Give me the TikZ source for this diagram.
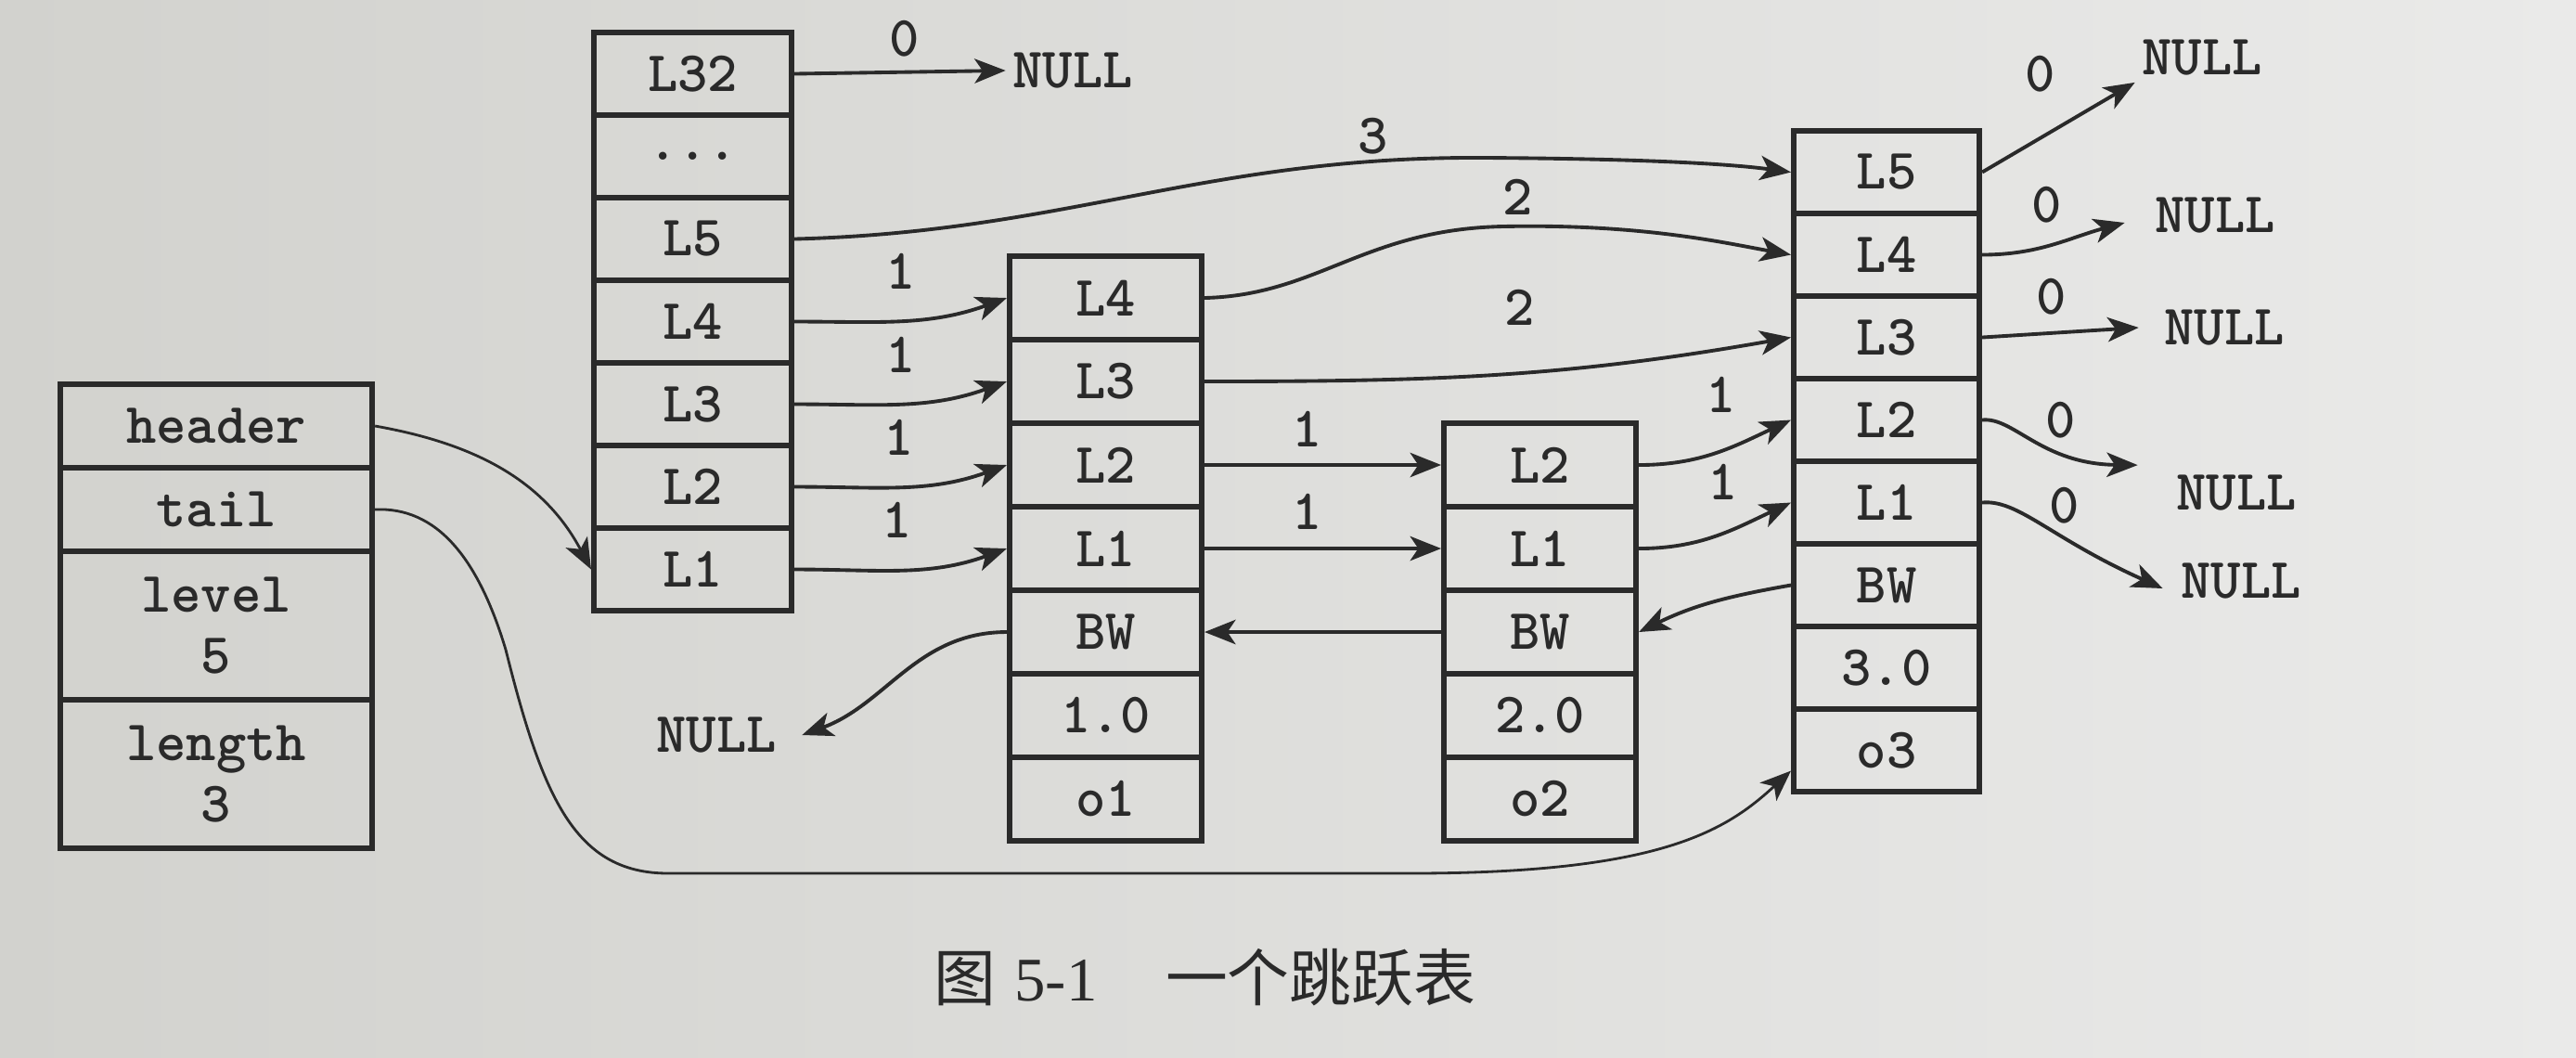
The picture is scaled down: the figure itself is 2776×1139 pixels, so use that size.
\documentclass[tikz,border=0pt]{standalone}
\usepackage{fontspec}
\newfontfamily\cjk{Noto Sans CJK SC}
\newfontfamily\capser{Liberation Serif}
\usetikzlibrary{arrows.meta}
\definecolor{ink}{RGB}{42,42,42}
\definecolor{paperL}{RGB}{210,210,206}
\definecolor{paperR}{RGB}{234,234,233}
\newcommand{\celltt}{\ttfamily\bfseries\fontsize{17.5}{18.5}\selectfont}
\begin{document}
\begin{tikzpicture}[x=0.01cm,y=0.01cm,
  cell/.style={draw=ink, line width=1.7pt, inner sep=0pt, anchor=north west, font=\celltt, text=ink, align=center},
  hc/.style={cell, minimum width=2.13cm, minimum height=0.89cm},
  nc/.style={cell, minimum width=2.07cm, minimum height=0.90cm},
  tc/.style={cell, minimum width=2.00cm, minimum height=0.89cm},
  sc/.style={cell, minimum width=3.36cm, minimum height=0.90cm},
  sctwo/.style={cell, minimum width=3.36cm, minimum height=1.60cm},
  txt/.style={font=\celltt, text=ink, inner sep=2pt},
  lnk/.style={draw=ink, line width=1.1pt, -{Stealth[length=9.5pt,width=7.5pt,inset=2.5pt]}},
  thinlnk/.style={lnk, line width=0.8pt}
]
\shade[left color=paperL, right color=paperR] (0,0) rectangle (2776,-1139);
\useasboundingbox (0,0) rectangle (2776,-1139);

% zskiplist structure
\node[sc]    (sHead) at (62,-411) {header};
\node[sc]    (sTail) at (62,-501) {tail};
\node[sctwo] (sLev)  at (62,-591) {level\\5};
\node[sctwo] (sLen)  at (62,-751) {length\\3};

% header node
\node[hc] (hL32) at (637,-32)  {L32};
\node[hc] (hdot) at (637,-121) {...};
\node[hc] (hL5)  at (637,-210) {L5};
\node[hc] (hL4)  at (637,-299) {L4};
\node[hc] (hL3)  at (637,-388) {L3};
\node[hc] (hL2)  at (637,-477) {L2};
\node[hc] (hL1)  at (637,-566) {L1};

% node 1
\node[nc] (aL4) at (1085,-273) {L4};
\node[nc] (aL3) at (1085,-363) {L3};
\node[nc] (aL2) at (1085,-453) {L2};
\node[nc] (aL1) at (1085,-543) {L1};
\node[nc] (aBW) at (1085,-633) {BW};
\node[nc] (aSc) at (1085,-723) {1.0};
\node[nc] (aOb) at (1085,-813) {o1};

% node 2
\node[nc] (bL2) at (1553,-453) {L2};
\node[nc] (bL1) at (1553,-543) {L1};
\node[nc] (bBW) at (1553,-633) {BW};
\node[nc] (bSc) at (1553,-723) {2.0};
\node[nc] (bOb) at (1553,-813) {o2};

% node 3
\node[tc] (cL5) at (1930,-138) {L5};
\node[tc] (cL4) at (1930,-227) {L4};
\node[tc] (cL3) at (1930,-316) {L3};
\node[tc] (cL2) at (1930,-405) {L2};
\node[tc] (cL1) at (1930,-494) {L1};
\node[tc] (cBW) at (1930,-583) {BW};
\node[tc] (cSc) at (1930,-672) {3.0};
\node[tc] (cOb) at (1930,-761) {o3};

% NULL targets
\node[txt] (nA) at (1156,-76)  {NULL};
\node[txt] (nB) at (2373,-62)  {NULL};
\node[txt] (nC) at (2387,-232) {NULL};
\node[txt] (nD) at (2397,-353) {NULL};
\node[txt] (nE) at (2410,-531) {NULL};
\node[txt] (nF) at (2415,-626) {NULL};
\node[txt] (nG) at (772,-792)  {NULL};

% span labels
\node[txt] (s0)  at (975,-42)   {0};
\node[txt] (s3)  at (1480,-147) {3};
\node[txt] (s2a) at (1636,-212) {2};
\node[txt] (s2b) at (1638,-331) {2};
\node[txt] (s1a) at (971,-292)  {1};
\node[txt] (s1b) at (971,-382)  {1};
\node[txt] (s1c) at (969,-471)  {1};
\node[txt] (s1d) at (967,-560)  {1};
\node[txt] (s1e) at (1409,-462) {1};
\node[txt] (s1f) at (1409,-551) {1};
\node[txt] (s1g) at (1855,-425) {1};
\node[txt] (s1h) at (1857,-519) {1};
\node[txt] (z1)  at (2199,-80)  {0};
\node[txt] (z2)  at (2206,-221) {0};
\node[txt] (z3)  at (2211,-320) {0};
\node[txt] (z4)  at (2221,-453) {0};
\node[txt] (z5)  at (2225,-545) {0};

% caption
\node[anchor=west, text=ink, inner sep=0pt] (cap) at (1006,-1053)
  {\fontsize{19}{22}\selectfont\cjk 图\hspace{0.3em}{\capser 5-1}\hspace{1.1em}一个跳跃表};

% forward pointers from header
\draw[lnk] (hL32.east) -- (nA.west);
\draw[lnk] (hL5.east) .. controls (1150,-250) and (1300,-168) .. (1600,-170)
                      .. controls (1760,-171) and (1860,-176) .. (cL5.west);
\draw[lnk] (hL4.east) to[out=0,in=200] (aL4.west);
\draw[lnk] (hL3.east) to[out=0,in=200] (aL3.west);
\draw[lnk] (hL2.east) to[out=0,in=200] (aL2.west);
\draw[lnk] (hL1.east) to[out=0,in=200] (aL1.west);

% from node 1
\draw[lnk] (aL4.east) .. controls (1420,-318) and (1470,-247) .. (1620,-244)
                      .. controls (1770,-241) and (1860,-262) .. (cL4.west);
\draw[lnk] (aL3.east) to[out=0,in=190] (cL3.west);
\draw[lnk] (aL2.east) -- (bL2.west);
\draw[lnk] (aL1.east) -- (bL1.west);

% from node 2
\draw[lnk] (bL2.east) to[out=0,in=205] (cL2.west);
\draw[lnk] (bL1.east) to[out=0,in=205] (cL1.west);

% from node 3 to NULL
\draw[lnk] (cL5.east) -- (nB.south west);
\draw[lnk] (cL4.east) to[out=0,in=195] ([xshift=-0.25cm,yshift=-0.08cm]nC.west);
\draw[lnk] (cL3.east) -- ([xshift=-0.2cm]nD.west);
\draw[lnk] (cL2.east) .. controls (2170,-449) and (2200,-500) .. ([xshift=-0.34cm,yshift=0.03cm]nE.north west);
\draw[lnk] (cL1.east) .. controls (2175,-538) and (2210,-580) .. ([xshift=-0.12cm,yshift=-0.08cm]nF.west);

% backward pointers
\draw[lnk] (cBW.west) to[out=190,in=26] (bBW.east);
\draw[lnk] (bBW.west) -- (aBW.east);
\draw[lnk] (aBW.west) to[out=180,in=20] ([xshift=0.2cm]nG.east);

% header and tail pointers
\draw[thinlnk] (sHead.east) to[out=-10,in=118] (hL1.west);
\draw[thinlnk] (sTail.east) .. controls (470,-546) and (515,-600) .. (545,-700)
                            .. controls (585,-860) and (620,-941) .. (720,-941)
                            -- (1520,-941)
                            .. controls (1790,-941) and (1860,-895) .. ([yshift=-0.22cm]cOb.west);
\end{tikzpicture}
\end{document}
